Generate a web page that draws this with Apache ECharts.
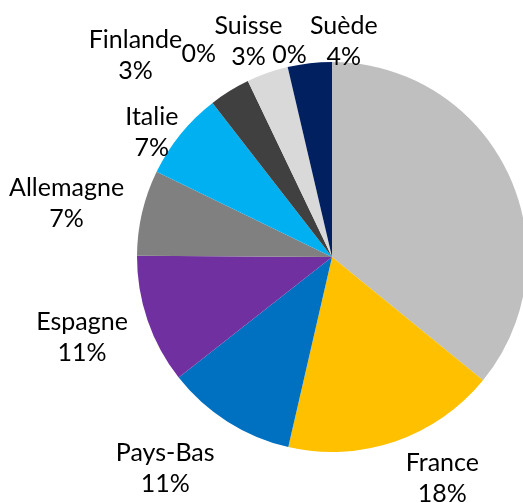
<!DOCTYPE html>
<html>
<head>
<meta charset="utf-8">
<script src="https://cdn.jsdelivr.net/npm/echarts@6/dist/echarts.min.js"></script>
<style>
  html, body { margin: 0; padding: 0; background: #fff; }
  #main { width: 523px; height: 503px; }
</style>
</head>
<body>
<div id="main"></div>
<script>
  // parts (%), clockwise from 12 o'clock
  var countries = ['Autres', 'France', 'Pays-Bas', 'Espagne', 'Allemagne', 'Italie', 'Finlande', '', 'Suisse', '', 'Suède'];
  var shares = [35.9, 17.7, 10.8, 10.7, 7.1, 7.3, 3.4, 0, 3.45, 0, 3.65];
  var colors = ['#BFBFBF', '#FFC000', '#0070C0', '#7030A0', '#808080', '#00B0F0', '#404040', '#A5A5A5', '#D9D9D9', '#5B9BD5', '#002060'];

  var cx = 332, cy = 257, R = 195;
  // label nudges [degrees, px] to keep the crowded labels apart
  var nudge = {
    1: [-7.6, 10], 2: [5.9, 25], 3: [1, 13], 4: [-1.8, 9], 5: [-4.4, -14],
    6: [-12.6, 37], 7: [-7.7, 22], 8: [-1.8, -5], 9: [1.3, -14], 10: [9.7, -20]
  };

  var total = shares.reduce(function (s, v) { return s + v; }, 0);
  function midAngle(i) {
    var before = 0;
    for (var k = 0; k < i; k++) before += shares[k];
    return (before + shares[i] / 2) / total * 360;
  }

  var myChart = echarts.init(document.getElementById('main'));
  var option = {
    backgroundColor: '#fff',
    animation: false,
    series: [{
      type: 'pie',
      center: [cx, cy],
      radius: R,
      startAngle: 90,
      clockwise: true,
      avoidLabelOverlap: false,
      itemStyle: { borderWidth: 0 },
      emphasis: { disabled: true },
      label: {
        show: true,
        position: 'outside',
        fontFamily: 'Lato',
        fontSize: 25,
        lineHeight: 31,
        color: '#000',
        formatter: function (p) {
          if (p.value === 0) return '0%';
          return p.name + '\n' + Math.round(p.percent) + '%';
        }
      },
      labelLine: { show: false },
      labelLayout: function (p) {
        var i = p.dataIndex;
        var n = nudge[i] || [0, 0];
        var a = (midAngle(i) + n[0]) * Math.PI / 180;
        var sx = Math.sin(a), sy = -Math.cos(a);
        var w = p.labelRect.width / 2, h = p.labelRect.height / 2;
        var ext = Math.sqrt(w * sx * w * sx + h * sy * h * sy);
        var d = R + 10 + ext + n[1];
        return { x: cx + d * sx, y: cy + d * sy, align: 'center', verticalAlign: 'middle' };
      },
      data: countries.map(function (c, i) {
        return {
          name: c,
          value: shares[i],
          itemStyle: { color: colors[i] },
          label: i === 0 ? { show: false } : undefined
        };
      })
    }]
  };

  option && myChart.setOption(option);
</script>
</body>
</html>
